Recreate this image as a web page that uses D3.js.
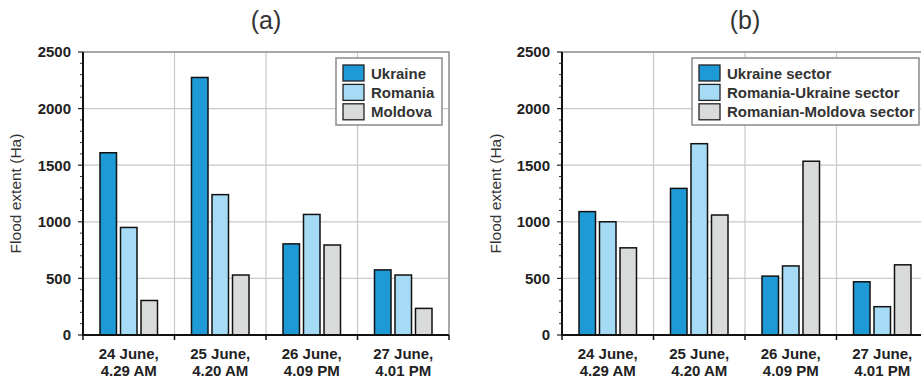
<!DOCTYPE html>
<html><head><meta charset="utf-8">
<script src="https://cdn.jsdelivr.net/npm/d3@7"></script>
<style>
html,body{margin:0;padding:0;background:#fff;}
svg{display:block;font-family:"Liberation Sans",Arial,sans-serif;}
</style></head>
<body><svg id="chart" width="921" height="379"></svg>
<script>
const categories = [["24 June,","4.29 AM"],["25 June,","4.20 AM"],["26 June,","4.09 PM"],["27 June,","4.01 PM"]];
const yTicks = [0,500,1000,1500,2000,2500];
const seriesA = ["Ukraine","Romania","Moldova"];
const ukraineA = [1610,2275,805,575];
const romaniaA = [950,1240,1065,530];
const moldovaA = [305,530,795,235];
const seriesB = ["Ukraine sector","Romania-Ukraine sector","Romanian-Moldova sector"];
const ukraineB = [1090,1295,520,470];
const romaniaB = [1000,1690,610,250];
const moldovaB = [770,1060,1535,620];
const colors = ["#1e9bd7","#a5dbf5","#d9dada"];

const svg = d3.select("#chart");

function panel(opt){
  const {x0,x1,title,names,vals,legend} = opt;
  const yTop=52, yBot=335;
  const y = d3.scaleLinear().domain([0,2500]).range([yBot,yTop]);
  const x = d3.scaleBand().domain(d3.range(categories.length)).range([x0,x1]).padding(0);
  const g = svg.append("g");
  // gridlines
  g.selectAll(".hg").data(yTicks.slice(1,-1)).join("line")
    .attr("x1",x0).attr("x2",x1).attr("y1",d=>y(d)).attr("y2",d=>y(d))
    .attr("stroke","#c9c9c9").attr("stroke-width",1.2);
  g.selectAll(".vg").data(d3.range(1,categories.length)).join("line")
    .attr("x1",d=>x0+d*x.step()).attr("x2",d=>x0+d*x.step()).attr("y1",yTop).attr("y2",yBot)
    .attr("stroke","#c9c9c9").attr("stroke-width",1.2);
  // top/right frame
  g.append("path").attr("d",`M${x0},${yTop}H${x1}V${yBot}`).attr("fill","none")
    .attr("stroke","#8a8a8a").attr("stroke-width",1.5);
  // bars
  const inner = d3.scaleBand().domain(d3.range(names.length)).paddingInner(0.195).paddingOuter(0);
  categories.forEach((c,i)=>{
    const cx = x(i)+x.bandwidth()/2;
    inner.range([cx-28.75,cx+28.75]);
    vals.forEach((arr,s)=>{
      g.append("rect").attr("x",inner(s)).attr("width",inner.bandwidth())
        .attr("y",y(arr[i])).attr("height",yBot-y(arr[i]))
        .attr("fill",colors[s]).attr("stroke","#111").attr("stroke-width",1.5);
    });
  });
  // y axis
  const minor = d3.range(0,2501,100).filter(v=>v%500!==0);
  g.selectAll(".mt").data(minor).join("line")
    .attr("x1",x0-3).attr("x2",x0).attr("y1",d=>y(d)).attr("y2",d=>y(d))
    .attr("stroke","#333").attr("stroke-width",1);
  g.selectAll(".Mt").data(yTicks).join("line")
    .attr("x1",x0-5).attr("x2",x0).attr("y1",d=>y(d)).attr("y2",d=>y(d))
    .attr("stroke","#222").attr("stroke-width",1.2);
  g.selectAll(".yl").data(yTicks).join("text")
    .attr("x",x0-12).attr("y",d=>y(d)).attr("dy","0.36em").attr("text-anchor","end")
    .attr("font-size",15).attr("font-weight","bold").attr("fill","#222").text(d=>d);
  g.append("line").attr("x1",x0).attr("x2",x0).attr("y1",yTop).attr("y2",yBot+1)
    .attr("stroke","#111").attr("stroke-width",2);
  // x axis
  g.selectAll(".xt").data(d3.range(0,categories.length+1)).join("line")
    .attr("x1",d=>x0+d*x.step()).attr("x2",d=>x0+d*x.step()).attr("y1",yBot).attr("y2",yBot+5)
    .attr("stroke","#111").attr("stroke-width",1.5);
  g.append("line").attr("x1",x0-1).attr("x2",x1).attr("y1",yBot).attr("y2",yBot)
    .attr("stroke","#111").attr("stroke-width",2);
  categories.forEach((c,i)=>{
    const cx = x(i)+x.bandwidth()/2;
    const t = g.append("text").attr("text-anchor","middle").attr("font-size",15)
      .attr("font-weight","bold").attr("fill","#222");
    t.append("tspan").attr("x",cx).attr("y",359).text(c[0]);
    t.append("tspan").attr("x",cx).attr("y",376).text(c[1]);
  });
  // y label
  g.append("text").attr("transform",`translate(${opt.labelX},${(yTop+yBot)/2}) rotate(-90)`)
    .attr("text-anchor","middle").attr("font-size",15.5).attr("fill","#333").text("Flood extent (Ha)");
  // title
  g.append("text").attr("x",(x0+Math.min(x1,449+ (x0-83)))/2).attr("y",29).attr("text-anchor","middle")
    .attr("font-size",25).attr("fill","#333").text(title);
  // legend
  const L = g.append("g");
  L.append("rect").attr("x",legend.x).attr("y",58).attr("width",legend.w).attr("height",67)
    .attr("fill","#fff").attr("stroke","#8a8a8a").attr("stroke-width",1.5);
  names.forEach((n,s)=>{
    const yy = 65+s*19.4;
    L.append("rect").attr("x",legend.x+7).attr("y",yy).attr("width",21).attr("height",16)
      .attr("fill",colors[s]).attr("stroke","#222").attr("stroke-width",1.3);
    L.append("text").attr("x",legend.x+35).attr("y",yy+13.5).attr("font-size",15)
      .attr("font-weight","bold").attr("fill","#333").text(n);
  });
}

panel({x0:83,x1:449,title:"(a)",names:seriesA,vals:[ukraineA,romaniaA,moldovaA],legend:{x:336,w:106},labelX:21});
panel({x0:562,x1:928,title:"(b)",names:seriesB,vals:[ukraineB,romaniaB,moldovaB],legend:{x:692,w:227},labelX:501});
</script></body></html>
